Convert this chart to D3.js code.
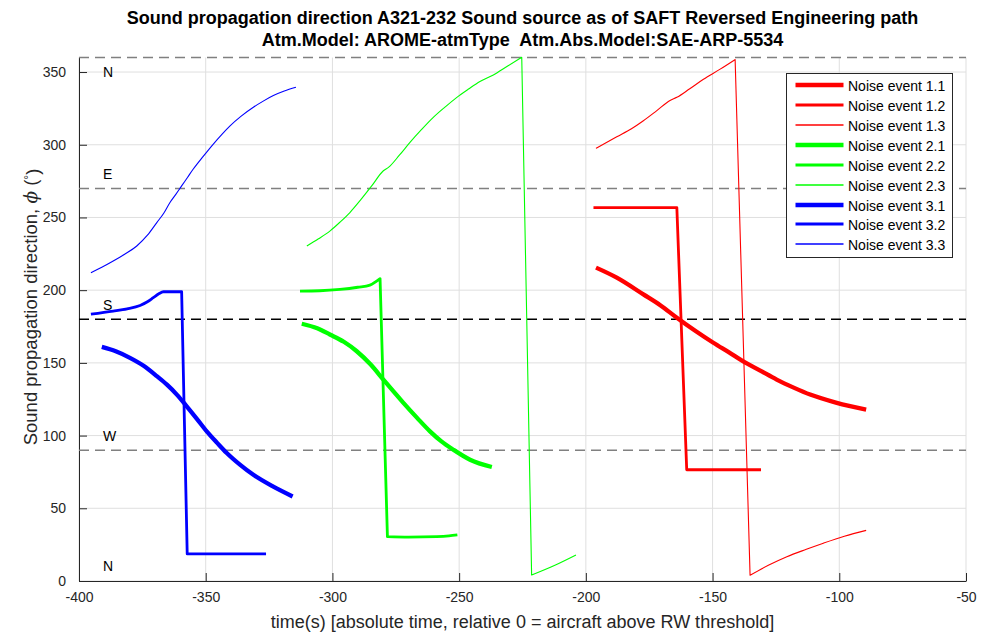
<!DOCTYPE html>
<html>
<head>
<meta charset="utf-8">
<script src="https://cdn.jsdelivr.net/npm/d3@7"></script>
<style>
  html, body { margin: 0; padding: 0; background: #fff; }
  svg { display: block; font-family: "Liberation Sans", Arial, Helvetica, sans-serif; }
</style>
</head>
<body>
<svg id="chart" width="995" height="634"></svg>
<script>
// Sound propagation direction per noise event (time in s, direction in degrees)
const seriesNames = [
  "Noise event 1.1", "Noise event 1.2", "Noise event 1.3",
  "Noise event 2.1", "Noise event 2.2", "Noise event 2.3",
  "Noise event 3.1", "Noise event 3.2", "Noise event 3.3"
];
const seriesColors = ["#ff0000", "#ff0000", "#ff0000", "#00ff00", "#00ff00", "#00ff00", "#0000ff", "#0000ff", "#0000ff"];
const seriesWidths = [4.3, 2.8, 1.1, 4.3, 2.8, 1.1, 4.3, 2.8, 1.1];

const t11 = [-196, -187.8, -177.3, -170.5, -164.1, -157, -149.7, -143.5, -137.9, -131, -124.7, -118, -111.5, -101, -89.4];
const p11 = [215.5, 208.6, 197.1, 189.5, 181, 172.2, 163.8, 157.2, 151.1, 144.5, 138.5, 133, 128.2, 122.5, 117.8];

const t12 = [-197, -164.1, -160.2, -130.9];
const p12 = [256.8, 256.8, 76.5, 76.5];

const t13 = [-196, -187.8, -182, -177.3, -172, -166.8, -164.1, -159, -153.6, -147, -141.1, -135.2, -128, -120.7, -113, -106.3, -98, -89.4];
const p13 = [297.5, 305.5, 311, 316.5, 323.5, 330.5, 332.6, 338.5, 345, 352, 358.6, 4, 10.8, 16.7, 21.8, 26, 30.8, 34.8];

const t21 = [-312.1, -306, -301, -295.5, -290.4, -285, -279.9, -276, -272, -266.5, -261.5, -257, -252.3, -245.7, -237.1];
const p21 = [176.9, 173.8, 169.5, 164.5, 158, 149, 138.5, 130.5, 122.5, 112, 102.9, 96, 90.3, 83.4, 78.4];

const t22 = [-312.8, -305, -297, -290, -285.2, -281.2, -278.3, -270, -258.8, -254, -250.7];
const p22 = [199.4, 199.6, 200.5, 202, 203.5, 207.9, 30.5, 30.2, 30.5, 31, 31.7];

const t23 = [-310.1, -305.5, -300.9, -297, -293.1, -288.8, -284.5, -279.9, -277.9, -273.5, -269.4, -264.8, -260.2, -255.5, -250.9, -246.3, -241.8, -236.5, -231, -225.3, -221.4, -212, -203.9];
const p23 = [230.4, 235.3, 240.8, 246.8, 253.4, 262.2, 271.7, 282.1, 284.4, 293, 301.6, 310.5, 318.8, 326, 332.6, 338.3, 343.5, 348, 354, 360.2, 4.1, 11, 17.9];

const t31 = [-391, -385.5, -379.9, -374.5, -369.3, -365.3, -361.4, -357.5, -353.5, -349.6, -345.5, -341.7, -336.5, -331.2, -323.5, -315.7];
const p31 = [161, 158, 153.5, 148, 140.9, 135, 128.2, 120.1, 111.5, 102.9, 95, 88, 80, 73, 65, 58.1];

const t32 = [-395.3, -386.5, -381, -375.9, -373, -370.7, -368.5, -366.7, -362.5, -359.5, -357.3, -326.2];
const p32 = [183.5, 185.6, 187.2, 189.5, 192, 194.8, 197.5, 198.9, 198.9, 198.9, 18.6, 18.6];

const t33 = [-395.3, -391, -386.5, -382, -377.2, -373, -369.3, -366.5, -364.1, -361.8, -359.5, -357.2, -354.9, -351, -347, -343.7, -340.4, -336, -331.2, -327.3, -323.3, -319, -314.4];
const p33 = [212, 215.7, 220, 224.7, 230.4, 237.8, 246.5, 253.1, 260.3, 265.9, 271.7, 277.5, 283.3, 292, 300.5, 307, 313, 319.7, 325.8, 330, 333.8, 336.9, 339.5];

const seriesT = [t11, t12, t13, t21, t22, t23, t31, t32, t33];
const seriesP = [p11, p12, p13, p21, p22, p23, p31, p32, p33];

// Compass reference directions
const compassDeg = [360, 270, 180, 90];
const compassColors = ["#808080", "#808080", "#000000", "#808080"];
const compassLabels = ["N", "E", "S", "W", "N"];
const compassLabelDeg = [350, 280, 190, 100, 10];

const xTicks = [-400, -350, -300, -250, -200, -150, -100, -50];
const yTicks = [0, 50, 100, 150, 200, 250, 300, 350];

const titleLines = [
  "Sound propagation direction A321-232 Sound source as of SAFT Reversed Engineering path",
  "Atm.Model: AROME-atmType  Atm.Abs.Model:SAE-ARP-5534"
];
const xLabel = "time(s) [absolute time, relative 0 = aircraft above RW threshold]";

const svg = d3.select("#chart");
const margin = { left: 79, top: 57.5, right: 29, bottom: 53 };
const W = 995 - margin.left - margin.right;
const H = 634 - margin.top - margin.bottom;
const axisColor = "#262626";

const x = d3.scaleLinear().domain([-400, -50]).range([0, W]);
const y = d3.scaleLinear().domain([0, 360]).range([H, 0]);

const g = svg.append("g").attr("transform", `translate(${margin.left},${margin.top})`);

// grid
g.append("g").selectAll("line").data(xTicks).join("line")
  .attr("x1", d => x(d)).attr("x2", d => x(d))
  .attr("y1", 0).attr("y2", H)
  .attr("stroke", "#dfdfdf").attr("stroke-width", 1);
g.append("g").selectAll("line").data(yTicks).join("line")
  .attr("x1", 0).attr("x2", W)
  .attr("y1", d => y(d)).attr("y2", d => y(d))
  .attr("stroke", "#dfdfdf").attr("stroke-width", 1);

// axes with inward ticks
const xAxis = d3.axisBottom(x).tickValues(xTicks).tickFormat(d => String(d)).tickSizeInner(-8).tickSizeOuter(0);
const yAxis = d3.axisLeft(y).tickValues(yTicks).tickFormat(d => String(d)).tickSizeInner(-8).tickSizeOuter(0);

const gx = g.append("g").attr("transform", `translate(0,${H})`).call(xAxis);
const gy = g.append("g").call(yAxis);
[gx, gy].forEach(a => {
  a.select(".domain").attr("stroke", axisColor).attr("stroke-width", 1);
  a.selectAll(".tick line").attr("stroke", axisColor);
  a.selectAll(".tick text").attr("fill", axisColor)
    .style("font-family", "'Liberation Sans', Arial, sans-serif").style("font-size", "14px");
});
gx.selectAll(".tick text").attr("dy", "0.71em").attr("y", 11);
gy.selectAll(".tick text").attr("x", -13);

// compass reference lines
g.append("g").selectAll("line").data(compassDeg).join("line")
  .attr("x1", 0).attr("x2", W)
  .attr("y1", d => y(d)).attr("y2", d => y(d))
  .attr("stroke", (d, i) => compassColors[i])
  .attr("stroke-width", 1.5)
  .attr("stroke-dasharray", "10,6");

g.append("g").selectAll("text").data(compassLabels).join("text")
  .attr("x", x(-390.5))
  .attr("y", (d, i) => y(compassLabelDeg[i]))
  .attr("dy", "0.36em")
  .attr("fill", "#000")
  .style("font-size", "14px")
  .text(d => d);

// series lines: smooth runs joined by straight wrap-around jumps
const smooth = d3.line().x(d => x(d[0])).y(d => y(d[1])).curve(d3.curveMonotoneX);
function seriesPath(ts, ps) {
  const pts = ts.map((t, k) => [t, ps[k]]);
  const runs = [[pts[0]]];
  for (let k = 1; k < pts.length; k++) {
    if (Math.abs(pts[k][1] - pts[k - 1][1]) > 60) runs.push([]);
    runs[runs.length - 1].push(pts[k]);
  }
  return runs.map((r, j) => {
    const d = r.length > 1 ? smooth(r) : `M${x(r[0][0])},${y(r[0][1])}`;
    return j === 0 ? d : "L" + d.slice(1);
  }).join("");
}
seriesNames.forEach((name, i) => {
  g.append("path")
    .attr("d", seriesPath(seriesT[i], seriesP[i]))
    .attr("fill", "none")
    .attr("stroke", seriesColors[i])
    .attr("stroke-width", seriesWidths[i])
    .attr("stroke-linejoin", "round");
});

// title
svg.append("g").selectAll("text").data(titleLines).join("text")
  .attr("x", margin.left + W / 2)
  .attr("y", (d, i) => 24 + i * 22)
  .attr("text-anchor", "middle")
  .attr("fill", "#000")
  .style("font-weight", "bold")
  .style("font-size", "18px")
  .style("white-space", "pre")
  .text(d => d);

// axis labels
svg.append("text")
  .attr("x", margin.left + W / 2).attr("y", 628)
  .attr("text-anchor", "middle").attr("fill", axisColor)
  .style("font-size", "18px")
  .text(xLabel);

const yl = svg.append("text")
  .attr("transform", `translate(37,307) rotate(-90)`)
  .attr("text-anchor", "middle").attr("fill", axisColor)
  .style("font-size", "18.5px");
yl.append("tspan").text("Sound propagation direction, ");
yl.append("tspan").style("font-style", "italic").style("font-family", "'DejaVu Serif', serif").text("ϕ");
yl.append("tspan").text(" (");
yl.append("tspan").attr("dy", "-0.35em").style("font-size", "12px").text("°");
yl.append("tspan").attr("dy", "0.35em").text(")");

// legend
const lg = svg.append("g").attr("transform", "translate(786.5,73.5)");
lg.append("rect").attr("width", 166).attr("height", 184)
  .attr("fill", "#fff").attr("stroke", axisColor).attr("stroke-width", 1);
const rows = lg.selectAll("g.row").data(seriesNames).join("g")
  .attr("class", "row")
  .attr("transform", (d, i) => `translate(0,${Math.round(12.2 + i * 19.9) - 0.5})`);
rows.append("line")
  .attr("x1", 9).attr("x2", 57).attr("y1", 0).attr("y2", 0)
  .attr("stroke", (d, i) => seriesColors[i])
  .attr("stroke-width", (d, i) => Math.max(seriesWidths[i], 1.6));
rows.append("text")
  .attr("x", 61.5).attr("y", 0.5).attr("dy", "0.36em")
  .attr("fill", "#000")
  .style("font-size", "14px")
  .text(d => d);
</script>
</body>
</html>
